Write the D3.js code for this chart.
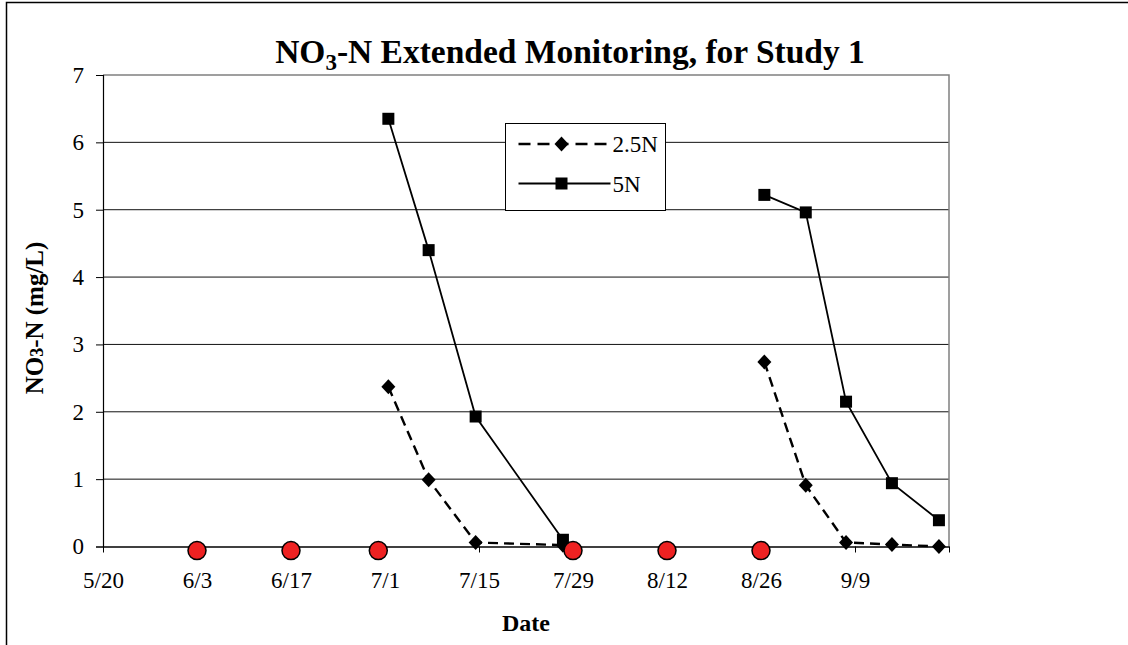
<!DOCTYPE html>
<html>
<head>
<meta charset="utf-8">
<script src="https://cdn.jsdelivr.net/npm/d3@7"></script>
<style>
  body { margin: 0; background: #fff; }
  svg text { font-family: "Liberation Serif", "Times New Roman", serif; fill: #000; }
</style>
</head>
<body>
<svg id="chart"></svg>
<script>
// sampling dates (two monitoring runs) and measured NO3-N, mg/L
const run1Dates = ["2009-07-01T12:00", "2009-07-07T12:00", "2009-07-14T12:00", "2009-07-27T12:00"]
const run2Dates = ["2009-08-26T12:00", "2009-09-01T16:00", "2009-09-07T16:00", "2009-09-14T12:00", "2009-09-21T12:00"]
const n25Run1 = [2.37, 0.99, 0.06, 0.02]
const n25Run2 = [2.74, 0.91, 0.06, 0.03, 0.0]
const n5Run1 = [6.35, 4.40, 1.93, 0.10]
const n5Run2 = [5.22, 4.96, 2.15, 0.94, 0.39]

// red markers sitting on the date axis
const eventDates = ["2009-06-03", "2009-06-17", "2009-06-30", "2009-07-29", "2009-08-12", "2009-08-26"]
const eventValues = [-0.06, -0.06, -0.06, -0.06, -0.06, -0.06]

// axis
const tickDates = ["2009-05-20", "2009-06-03", "2009-06-17", "2009-07-01", "2009-07-15", "2009-07-29", "2009-08-12", "2009-08-26", "2009-09-09", "2009-09-23"]
const tickLabels = ["5/20", "6/3", "6/17", "7/1", "7/15", "7/29", "8/12", "8/26", "9/9", ""]
const yTicks = [0, 1, 2, 3, 4, 5, 6, 7]

const parse = d3.isoParse
const W = 1128, H = 645
const margin = { top: 75, right: 179, bottom: 98.5, left: 103 }
const w = W - margin.left - margin.right
const h = H - margin.top - margin.bottom

const svg = d3.select("#chart").attr("width", W).attr("height", H)

// chart area border (runs off the right / bottom of the picture)
svg.append("rect")
  .attr("x", 6.5).attr("y", 2.5).attr("width", 1140).attr("height", 660)
  .attr("fill", "none").attr("stroke", "#000").attr("stroke-width", 1.5)

const g = svg.append("g").attr("transform", "translate(" + margin.left + "," + margin.top + ")")

const x = d3.scaleTime().domain([parse(tickDates[0]), parse(tickDates[tickDates.length - 1])]).range([0, w])
const y = d3.scaleLinear().domain([0, 7]).range([h, 0])

// gridlines
g.append("g").selectAll("line")
  .data(yTicks.slice(1, -1))
  .enter().append("line")
  .attr("x1", 0).attr("x2", w)
  .attr("y1", d => y(d)).attr("y2", d => y(d))
  .attr("stroke", "#111").attr("stroke-width", 1)

// plot area frame: top and right in grey
g.append("path")
  .attr("d", "M0," + y(7) + "H" + w + "V" + h)
  .attr("fill", "none").attr("stroke", "#808080").attr("stroke-width", 1.5)

// axes
const yAxis = d3.axisLeft(y).tickValues(yTicks).tickSize(7).tickPadding(12).tickFormat(d3.format("d"))
const gY = g.append("g").call(yAxis)
gY.select(".domain").attr("stroke", "#000").attr("stroke-width", 1.2)
gY.selectAll(".tick text").attr("font-size", 23)

const xAxis = d3.axisBottom(x)
  .tickValues(tickDates.map(parse))
  .tickSize(6).tickPadding(19).tickSizeOuter(0)
  .tickFormat((d, i) => tickLabels[i])
const gX = g.append("g").attr("transform", "translate(0," + h + ")").call(xAxis)
gX.select(".domain").attr("stroke", "#000").attr("stroke-width", 1.5)
gX.selectAll(".tick text").attr("font-size", 23)

// series
const line = d3.line().x(d => x(d.date)).y(d => y(d.value))
const zip = (dates, vals) => dates.map((d, i) => ({ date: parse(d), value: vals[i] }))

const n25 = [zip(run1Dates, n25Run1), zip(run2Dates, n25Run2)]
const n5 = [zip(run1Dates, n5Run1), zip(run2Dates, n5Run2)]

const diamond = "M0,-7.5L7,0L0,7.5L-7,0Z"

n5.forEach(run => {
  g.append("path").datum(run).attr("d", line)
    .attr("fill", "none").attr("stroke", "#000").attr("stroke-width", 1.8)
})
n25.forEach(run => {
  g.append("path").datum(run).attr("d", line)
    .attr("fill", "none").attr("stroke", "#000").attr("stroke-width", 2.4)
    .attr("stroke-dasharray", "10,6")
})

n5.forEach(run => {
  g.selectAll(null).data(run).enter().append("rect")
    .attr("x", d => x(d.date) - 6).attr("y", d => y(d.value) - 6)
    .attr("width", 12).attr("height", 12).attr("fill", "#000")
})
n25.forEach(run => {
  g.selectAll(null).data(run).enter().append("path")
    .attr("d", diamond)
    .attr("transform", d => "translate(" + x(d.date) + "," + y(d.value) + ")")
    .attr("fill", "#000")
})

// red markers
g.selectAll(".event")
  .data(eventDates.map((d, i) => ({ date: parse(d), value: eventValues[i] })))
  .enter().append("circle")
  .attr("class", "event")
  .attr("cx", d => x(d.date)).attr("cy", d => y(d.value))
  .attr("r", 9)
  .attr("fill", "#ee2222").attr("stroke", "#000").attr("stroke-width", 1.5)

// legend
const legend = g.append("g").attr("transform", "translate(" + (505.5 - margin.left) + "," + (123.5 - margin.top) + ")")
legend.append("rect").attr("width", 160).attr("height", 87)
  .attr("fill", "#fff").attr("stroke", "#000").attr("stroke-width", 1)
const legendItems = [
  { name: "2.5N", dash: "12,7", width: 2.4, marker: "diamond" },
  { name: "5N", dash: null, width: 1.8, marker: "square" }
]
legendItems.forEach((item, i) => {
  const ly = 20.5 + i * 39.5
  legend.append("line").attr("x1", 13).attr("x2", 105).attr("y1", ly).attr("y2", ly)
    .attr("stroke", "#000").attr("stroke-width", item.width)
    .attr("stroke-dasharray", item.dash)
  if (item.marker === "diamond") {
    legend.append("path").attr("d", diamond).attr("transform", "translate(56," + ly + ")")
  } else {
    legend.append("rect").attr("x", 50).attr("y", ly - 6).attr("width", 12).attr("height", 12)
  }
  legend.append("text").attr("x", 107).attr("y", ly).attr("dy", "0.35em")
    .attr("font-size", 23).text(item.name)
})

// titles
const title = svg.append("text")
  .attr("x", (margin.left + margin.left + w) / 2 + 44).attr("y", 63)
  .attr("text-anchor", "middle")
  .attr("font-size", 33.5).attr("font-weight", "bold")
title.append("tspan").text("NO")
title.append("tspan").attr("font-size", 23).attr("dy", 7).text("3")
title.append("tspan").attr("dy", -7).text("-N Extended Monitoring, for Study 1")

const yTitle = svg.append("text")
  .attr("transform", "translate(43," + 318 + ") rotate(-90)")
  .attr("text-anchor", "middle")
  .attr("font-size", 25).attr("font-weight", "bold")
yTitle.append("tspan").text("NO")
yTitle.append("tspan").attr("font-size", 18).text("3")
yTitle.append("tspan").text("-N (mg/L)")

svg.append("text")
  .attr("x", margin.left + w / 2).attr("y", 631)
  .attr("text-anchor", "middle")
  .attr("font-size", 24).attr("font-weight", "bold")
  .text("Date")
</script>
</body>
</html>
